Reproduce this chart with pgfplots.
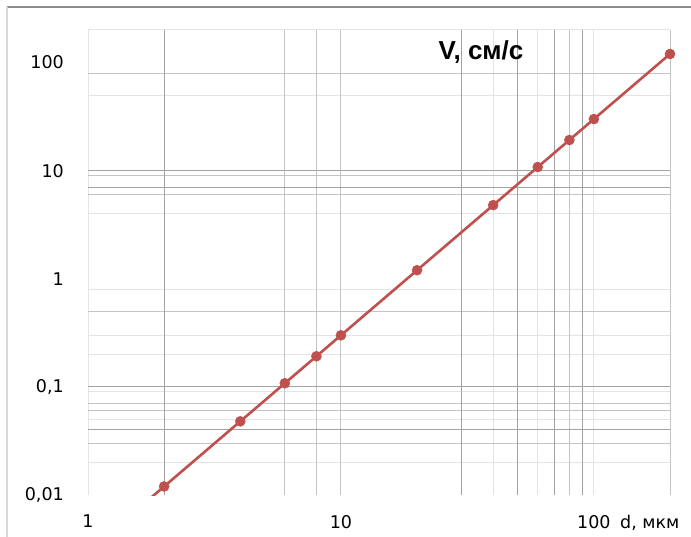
\documentclass[border=0pt]{standalone}
\usepackage{pgfplots}
\pgfplotsset{compat=1.18}
\usepackage{fontspec}
\setmainfont{DejaVu Sans}
\newfontfamily\titlefont{Liberation Sans}
\definecolor{gdark}{HTML}{A3A3A3}
\definecolor{gmed}{HTML}{C4C4C4}
\definecolor{glight}{HTML}{E4E4E4}
\definecolor{sred}{HTML}{C0504D}
\definecolor{frametop}{HTML}{8C8C8C}
\definecolor{frameleft}{HTML}{D9D9D9}
\pgfplotsset{
  xmode=log, ymode=log,
  every axis/.append style={
    at={(88pt,41pt)}, anchor=south west,
    scale only axis, width=582pt, height=465pt,
    xmin=1, xmax=200, ymin=0.01, ymax=200,
    axis line style={draw=none}, major tick length=0pt, minor tick length=0pt,
  },
}
\begin{document}
\begin{tikzpicture}
\path[use as bounding box] (0,0) rectangle (691pt,536pt);
\fill[white] (0,0) rectangle (691pt,536pt);
\draw[frametop, line width=2pt] (7pt,529pt) -- (700pt,529pt);
\draw[frameleft, line width=1.5pt] (7pt,529pt) -- (7pt,-10pt);
% light grid lines
\begin{axis}[xmode=log, ymode=log, grid=major, major grid style={draw=glight, line width=1pt},
  xticklabels={}, yticklabels={},
  xtick={1,40,60,100},
  ytick={0.02,0.05,0.09,0.2,0.3,0.8,4,50,200}]
\end{axis}
% medium grid lines
\begin{axis}[xmode=log, ymode=log, grid=major, major grid style={draw=gmed, line width=1pt},
  xticklabels={}, yticklabels={},
  xtick={6,8,10,80,200},
  ytick={0.03,0.06,0.07,0.5,6,9,80}]
\end{axis}
% dark grid lines
\begin{axis}[xmode=log, ymode=log, grid=major, major grid style={draw=gdark, line width=1pt},
  xticklabels={}, yticklabels={},
  xtick={2,30,50,70,90},
  ytick={0.04,0.1,7,10}]
\end{axis}
% data and labels
\begin{axis}[xmode=log, ymode=log,
  xtick={1,10,100}, xticklabels={1,10,100},
  ytick={0.01,0.1,1,10,100}, yticklabels={{0,01},{0,1},1,10,100},
  tick label style={font=\fontsize{17.5}{20}\selectfont, text=black},
  xticklabel style={inner sep=0pt, anchor=north, yshift=-20pt},
  yticklabel style={inner sep=0pt, anchor=east, xshift=-24pt},
]
\addplot[sred, line width=2.6pt, mark=*, mark size=5pt,
  mark options={fill=sred, draw=sred, line width=0.5pt}] table {
x y
1 0.003
2 0.012
4 0.048
6 0.108
8 0.192
10 0.3
20 1.2
40 4.8
60 10.8
80 19.2
100 30
200 120
};
\end{axis}
\node[anchor=base, inner sep=0pt, font=\titlefont\bfseries\fontsize{26}{30}\selectfont] at (481pt,476pt) {V, см/с};
\node[anchor=base west, inner sep=0pt, font=\fontsize{17.5}{20}\selectfont, text=black] at (620pt,8pt) {d, мкм};
\end{tikzpicture}
\end{document}
